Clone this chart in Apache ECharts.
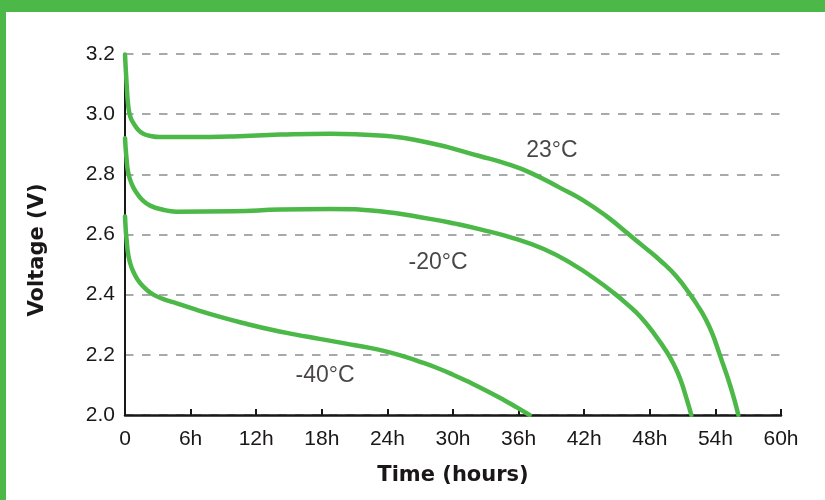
<!DOCTYPE html>
<html>
<head>
<meta charset="utf-8">
<script src="https://cdn.jsdelivr.net/npm/echarts@6/dist/echarts.min.js"></script>
<style>
html,body{margin:0;padding:0;background:#fff;}
#chart{width:825px;height:500px;}
</style>
</head>
<body>
<div id="chart"></div>
<script>
// Data (time in hours, voltage in V)
const xTicks = [0, 6, 12, 18, 24, 30, 36, 42, 48, 54, 60];
const yTicks = [2.0, 2.2, 2.4, 2.6, 2.8, 3.0, 3.2];
const seriesNames = ['23°C', '-20°C', '-40°C'];
const curve23 = [[0,3.198],[0.15,3.1],[0.3,3.026],[0.5,2.99],[0.76,2.971],[1.2,2.948],[1.67,2.935],[2.4,2.927],[3.2,2.924],[6,2.924],[9.9,2.926],[14.2,2.932],[18.8,2.935],[23.3,2.929],[27.9,2.904],[32.5,2.860],[35,2.834],[37.1,2.805],[39.8,2.755],[41.8,2.716],[44,2.662],[46.1,2.6],[47.5,2.558],[49,2.512],[50.4,2.462],[51.7,2.4],[52.4,2.362],[53,2.326],[53.7,2.272],[54.4,2.2],[54.9,2.148],[55.3,2.104],[55.7,2.055],[56.1,2.0]];
const curveM20 = [[0,2.92],[0.12,2.86],[0.3,2.805],[0.65,2.765],[1.07,2.738],[1.6,2.714],[2.3,2.696],[3.4,2.683],[4.7,2.676],[9.9,2.677],[14.2,2.683],[18.8,2.685],[23.3,2.677],[27.9,2.652],[30.2,2.636],[32.5,2.617],[35.5,2.588],[38.3,2.552],[41.0,2.5],[43.0,2.452],[44.7,2.406],[46.0,2.366],[47.1,2.328],[48.4,2.27],[49.6,2.207],[50.3,2.16],[50.8,2.118],[51.3,2.062],[51.8,2.0]];
const curveM40 = [[0,2.66],[0.2,2.56],[0.46,2.506],[0.9,2.466],[1.37,2.439],[2.0,2.416],[2.6,2.400],[3.4,2.387],[4.4,2.375],[6.5,2.35],[8.7,2.326],[11,2.304],[13.3,2.284],[15.5,2.268],[17.8,2.253],[20.1,2.238],[22.4,2.223],[24,2.21],[25.5,2.195],[27,2.177],[28.5,2.157],[30,2.134],[31.6,2.107],[33.1,2.08],[34.6,2.051],[35.8,2.026],[37.0,2.0]];
const labelPoints = [[39.05,2.878],[28.63,2.506],[18.3,2.131]];

const GREEN = '#4cb848';
const INK = '#1a1718';
const chart = echarts.init(document.getElementById('chart'), null, {renderer:'canvas'});

function lineSeries(name, data){
  return {
    name, type:'line', data, showSymbol:false, symbol:'none',
    smooth:0.5,
    lineStyle:{color:GREEN, width:4.5, cap:'round', join:'round'},
    z:3, silent:true
  };
}

chart.setOption({
  animation:false,
  backgroundColor:'#fff',
  grid:{left:125, right:44, top:54, bottom:85, containLabel:false},
  xAxis:{
    type:'value', min:0, max:60, interval:6,
    axisLine:{show:true, lineStyle:{color:INK, width:2.5}},
    axisTick:{show:true, inside:true, length:6, lineStyle:{color:INK, width:2}},
    axisLabel:{margin:14, color:INK, fontFamily:'Liberation Sans', fontSize:21,
      formatter:v => v === 0 ? '0' : v + 'h'},
    splitLine:{show:false}
  },
  yAxis:{
    type:'value', min:2.0, max:3.2, interval:0.2,
    axisLine:{show:true, lineStyle:{color:INK, width:2}},
    axisTick:{show:false},
    axisLabel:{margin:10, color:INK, fontFamily:'Liberation Sans', fontSize:21,
      formatter:v => v.toFixed(1)},
    splitLine:{show:true, lineStyle:{color:'#a7a9ac', width:2, type:[8.5,8.5]}}
  },
  series:[
    lineSeries(seriesNames[0], curve23),
    lineSeries(seriesNames[1], curveM20),
    lineSeries(seriesNames[2], curveM40),
    {
      type:'scatter', symbolSize:0, silent:true, z:4,
      data: labelPoints.map((p,i)=>({value:p, name:seriesNames[i]})),
      label:{show:true, position:'inside', formatter:p=>p.name,
        color:INK, fontFamily:'Liberation Sans', fontSize:23}
    }
  ],
  graphic:[
    {type:'rect', shape:{x:0,y:0,width:825,height:12}, style:{fill:GREEN}, z:10},
    {type:'rect', shape:{x:0,y:0,width:6,height:500}, style:{fill:GREEN}, z:10},
    {type:'text', x:453, y:476, z:10,
      style:{text:'Time (hours)', font:'bold 21px "DejaVu Sans"', fill:INK, align:'center', verticalAlign:'middle'}},
    {type:'text', x:38, y:250, rotation:Math.PI/2, z:10,
      style:{text:'Voltage (V)', font:'bold 21px "DejaVu Sans"', fill:INK, align:'center', verticalAlign:'middle'}}
  ]
});
</script>
</body>
</html>
